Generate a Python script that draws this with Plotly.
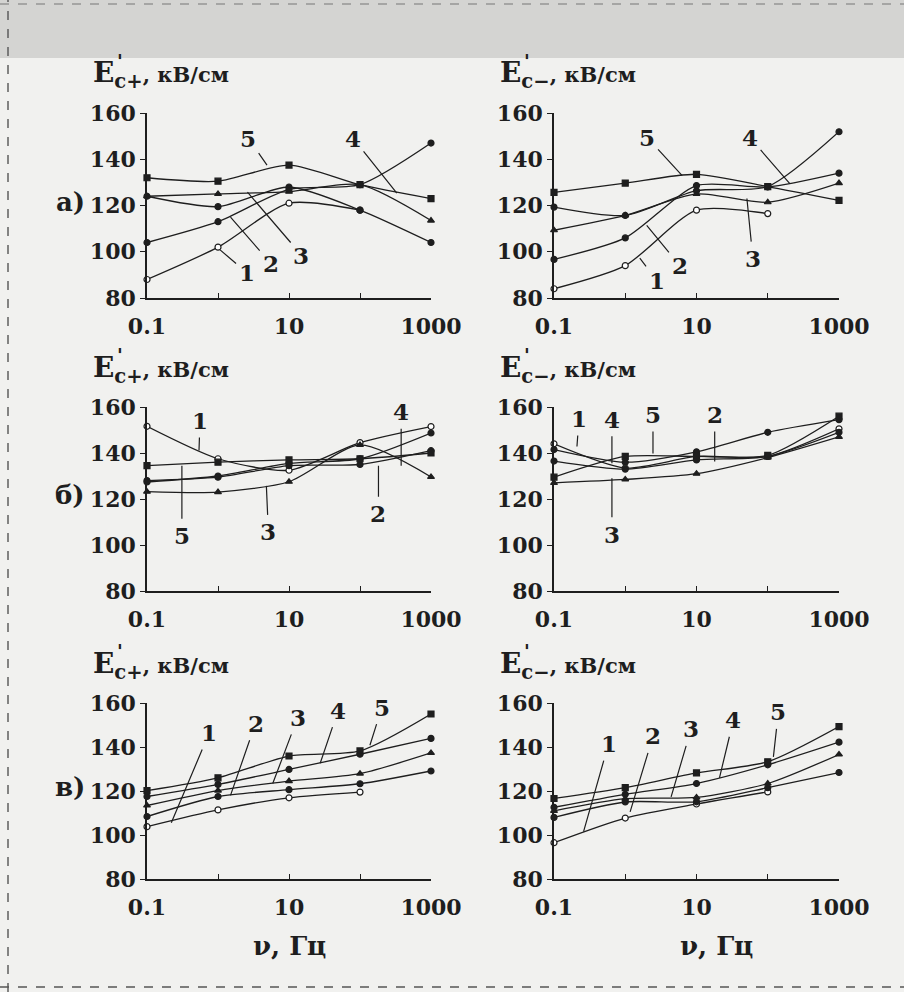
import math
import plotly.graph_objects as go

# Frequency points (Hz) and curve numbering
freq = [0.1, 1, 10, 100, 1000]
curve_names = ["1", "2", "3", "4", "5"]
freq_labelled = [0.1, 10, 1000]
freq_ticktext = ["0.1", "10", "1000"]
freq_minor = [1, 100]
field_ticks = [80, 100, 120, 140, 160]

# а) coercive fields E'c+ and E'c-, kV/cm, curves 1..5
a_plus = [
    [88, 102, 121, 118],
    [124, 119.5, 128, 118, 104],
    [124, 125, 126, 129, 113.5],
    [104, 113, 127, 129, 147],
    [132, 130.5, 137.5, 129, 123],
]
a_minus = [
    [84, 94, 118, 116.5],
    [96.7, 106, 128.6, 128, 134],
    [109.3, 115.7, 125, 121.4, 129.7],
    [119.3, 115.7, 126.4, 128.2, 151.9],
    [125.7, 129.7, 133.5, 128.2, 122.2],
]

# б)
b_plus = [
    [151.6, 137.5, 132.5, 144.5, 151.5],
    [128, 129.5, 134.5, 135, 141],
    [123.2, 123, 127.5, 143.5, 129.6],
    [127.4, 130, 135.5, 137.5, 148.7],
    [134.5, 136, 137, 137.5, 140],
]
b_minus = [
    [144, 133.5, 138.5, 138.5, 150.5],
    [141.5, 136, 140.5, 149, 154.5],
    [127, 128.5, 131, 138, 147],
    [136.5, 133, 137, 138.5, 149],
    [129.5, 138.5, 138.5, 139, 156],
]

# в)
c_plus = [
    [103.8, 111.4, 116.9, 119.5],
    [108.4, 117.5, 120.6, 123.3, 129.1],
    [113.4, 120.2, 124.5, 127.9, 137.3],
    [117.5, 123.0, 129.8, 136.7, 143.9],
    [120.2, 126.0, 135.9, 138.2, 155.0],
]
c_minus = [
    [96.5, 107.7, 114.1, 119.6],
    [108, 115, 115.1, 121.5, 128.4],
    [111, 116.5, 117.1, 123.4, 136.6],
    [112.6, 118.5, 123.4, 131.9, 142.2],
    [116.6, 121.5, 128.2, 133.3, 149.3],
]

panels = [a_plus, a_minus, b_plus, b_minus, c_plus, c_minus]
panel_letters = ["а)", "б)", "в)"]
axis_titles = ["c+", "c−", "c+", "c−", "c+", "c−"]

# Curve-number callouts: (curve, pointer freq, pointer value, dx, dy)
callouts = [
    [("5", 4.9, 137.5, -19, -27), ("4", 330, 125.4, -44, -55), ("1", 1.07, 100.8, 27, 23),
     ("2", 1.5, 115, 40, 46), ("3", 2.6, 125.8, 54, 63)],
    [("5", 6.3, 132.9, -35, -38), ("4", 204, 129.5, -40, -46), ("3", 51, 123, 6, 60),
     ("2", 2.0, 111.4, 33, 40), ("1", 1.6, 97.2, 17, 22)],
    [("1", 0.54, 141.1, 1, -30), ("4", 380, 134.5, 0, -54), ("5", 0.31, 134.5, 0, 70),
     ("3", 4.8, 125.7, 2, 46), ("2", 182, 134.5, 0, 48)],
    [("1", 0.21, 142.8, 2, -28), ("4", 0.65, 135.5, 0, -44), ("5", 2.45, 139.8, 0, -39),
     ("2", 18, 136.3, 0, -47), ("3", 0.65, 129, 0, 56)],
    [("1", 0.22, 105.6, 38, -90), ("2", 1.5, 118, 25, -72), ("3", 5.9, 123.4, 25, -66),
     ("4", 27.5, 132.6, 18, -53), ("5", 138, 140.8, 12, -38)],
    [("1", 0.26, 101.5, 25, -88), ("2", 1.17, 110.5, 23, -76), ("3", 4.4, 117.3, 20, -68),
     ("4", 21, 126, 14, -58), ("5", 120, 135.5, 5, -45)],
]

W, H = 904, 992
INK = "#1e1e1e"
SERIF = "DejaVu Serif"
cols = [(147, 431), (554, 839)]
rows = [(113, 298), (407, 591), (703, 879)]
freq_title_x = [289, 716]
symbols = ["circle", "circle", "triangle-up", "circle", "square"]
fills = ["white", INK, INK, INK, INK]


def px(x):
    return x / W


def py(y):
    return 1 - y / H


fig = go.Figure()
layout = dict(
    width=W, height=H,
    margin=dict(l=0, r=0, t=0, b=0, pad=0, autoexpand=False),
    paper_bgcolor="#f1f1ef",
    plot_bgcolor="rgba(0,0,0,0)",
    showlegend=False,
)

annotations = []
shapes = []

for i, series in enumerate(panels):
    r, c = divmod(i, 2)
    sfx = "" if i == 0 else str(i + 1)
    xa, ya = "x" + sfx, "y" + sfx
    for k, vals in enumerate(series):
        fig.add_trace(go.Scatter(
            x=freq[:len(vals)], y=vals, xaxis=xa, yaxis=ya,
            mode="lines+markers", cliponaxis=False,
            name=curve_names[k],
            line=dict(color=INK, width=1.3, shape="spline", smoothing=0.7),
            marker=dict(symbol=symbols[k], size=6, color=fills[k],
                        line=dict(color=INK, width=1.2)),
        ))
    x0, x1 = cols[c]
    y0, y1 = rows[r]
    tickfont = dict(family=SERIF, size=22, color=INK, weight="bold")
    layout["xaxis" + sfx] = dict(
        type="log", range=[-1, 3], domain=[px(x0), px(x1)], anchor=ya,
        automargin=False,
        showline=True, linecolor=INK, linewidth=1.6, showgrid=False, zeroline=False,
        ticks="inside", ticklen=5, tickwidth=1.4, tickcolor=INK,
        tickvals=freq_labelled, ticktext=freq_ticktext, tickfont=tickfont,
        ticklabelstandoff=8,
        minor=dict(tickvals=freq_minor, ticks="inside", ticklen=5, tickwidth=1.4,
                   tickcolor=INK, showgrid=False),
    )
    layout["yaxis" + sfx] = dict(
        range=[80, 160], domain=[py(y1), py(y0)], anchor=xa,
        automargin=False,
        showline=True, linecolor=INK, linewidth=1.6, showgrid=False, zeroline=False,
        ticks="outside", ticklen=5, tickwidth=1.4, tickcolor=INK,
        tickvals=field_ticks, tickfont=tickfont, ticklabelstandoff=0,
    )
    # axis title E'c±, кВ/см above the y axis
    tx = x0 - 56
    ty = y0 - 38
    annotations.append(dict(
        xref="paper", yref="paper", x=px(tx), y=py(ty), xanchor="left", yanchor="middle",
        showarrow=False,
        text=("<b>E<sub>" + axis_titles[i] + "</sub>"
              "<span style='font-size:21px'>, кВ/см</span></b>"),
        font=dict(family=SERIF, size=28, color=INK),
    ))
    annotations.append(dict(
        xref="paper", yref="paper", x=px(tx + 29), y=py(ty - 14), xanchor="center",
        yanchor="middle", showarrow=False, text="<b>'</b>",
        font=dict(family=SERIF, size=19, color=INK),
    ))
    # curve-number callouts
    for name, fx, fv, dx, dy in callouts[i]:
        annotations.append(dict(
            xref=xa, yref=ya, x=math.log10(fx), y=fv, ax=dx, ay=dy,
            text="<b>" + name + "</b>", showarrow=True, arrowhead=0,
            arrowwidth=1.2, arrowcolor=INK, standoff=0, startstandoff=2,
            font=dict(family=SERIF, size=23, color=INK),
        ))

# panel letters
for r, letter in enumerate(panel_letters):
    y0, y1 = rows[r]
    yc = y0 + (y1 - y0) * 0.5 - (y1 - y0) * 0.02
    annotations.append(dict(
        xref="paper", yref="paper", x=px(70), y=py(yc), xanchor="center", yanchor="middle",
        showarrow=False, text="<b>" + letter + "</b>",
        font=dict(family=SERIF, size=26, color=INK),
    ))

# frequency axis titles under the bottom row
for xc in freq_title_x:
    annotations.append(dict(
        xref="paper", yref="paper", x=px(xc), y=py(946), xanchor="center",
        yanchor="middle", showarrow=False, text="<b>ν, Гц</b>",
        font=dict(family=SERIF, size=26, color=INK),
    ))

# page tone band at the top and dashed cut lines
shapes.append(dict(type="rect", xref="paper", yref="paper", x0=0, x1=1, y0=py(58), y1=1,
                   fillcolor="#d4d4d2", line=dict(width=0), layer="below"))
shapes.append(dict(type="line", xref="paper", yref="paper", x0=px(8), x1=px(8), y0=0, y1=1,
                   line=dict(color="#555", width=1.4, dash="dash")))
shapes.append(dict(type="line", xref="paper", yref="paper", x0=0, x1=1, y0=py(987), y1=py(987),
                   line=dict(color="#555", width=1.4, dash="dash")))
shapes.append(dict(type="line", xref="paper", yref="paper", x0=0, x1=1, y0=py(4), y1=py(4),
                   line=dict(color="#777", width=1.2, dash="dash")))

layout["annotations"] = annotations
layout["shapes"] = shapes
fig.update_layout(**layout)
fig.write_html("out.html")
